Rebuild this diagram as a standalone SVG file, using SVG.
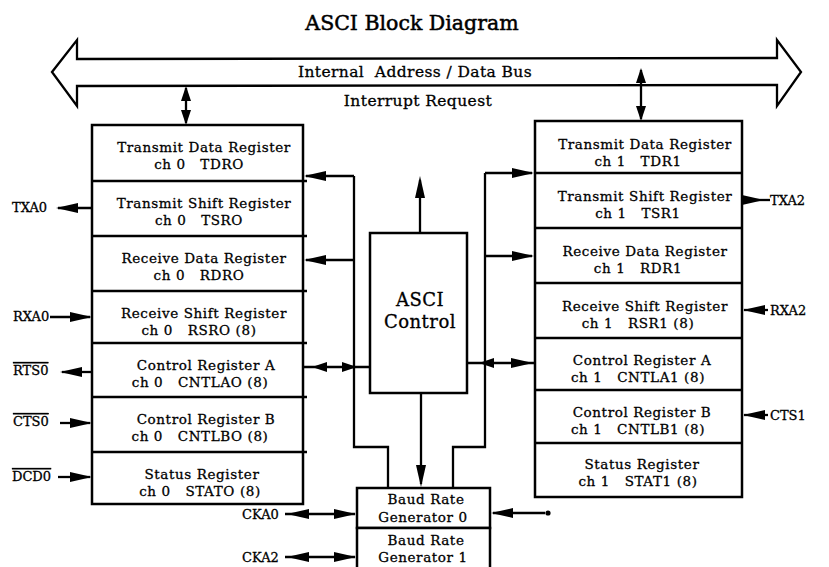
<svg xmlns="http://www.w3.org/2000/svg" xmlns:xlink="http://www.w3.org/1999/xlink" width="829" height="567" viewBox="0 0 829 567">
<style>
  .box { fill: #fff; stroke: #000; stroke-width: 2.5; }
  .div { stroke: #000; stroke-width: 2.3; fill: none; }
  .ln { stroke: #000; stroke-width: 2.3; fill: none; }
  text { white-space: pre; fill: #000; stroke: #000; stroke-width: 0.3; font-family: "DejaVu Serif", "Liberation Serif", serif; }
  .t { font-size: 13.5px; letter-spacing: 0.6px; text-anchor: middle; }
  .sig { font-size: 13px; }
  .ov { text-decoration: overline; }
  .title { font-size: 20.5px; text-anchor: middle; stroke-width: 0.5; }
  .bus { font-size: 15.5px; text-anchor: middle; letter-spacing: 0.4px; }
  .ctl { font-size: 18px; text-anchor: middle; letter-spacing: 0.5px; }
</style>
<defs>
  <path id="ah" d="M0,0 L-22,-5 L-22,5 Z" fill="#000"/>
  <path id="ahs" d="M0,0 L-15,-5 L-15,5 Z" fill="#000"/>
</defs>
<rect width="829" height="567" fill="#fff"/>

<text class="title" x="412" y="30">ASCI Block Diagram</text>

<g id="connectors">
  <!-- internal bus double arrow -->
  <path class="ln" d="M52,72 L77,40 L77,59 L777,58 L777,40 L801,72 L777,106 L777,85 L77,86 L77,106 Z"/>
  <!-- bus to channel 0 / channel 1 -->
  <line class="ln" x1="186" y1="88" x2="186" y2="123"/>
  <use xlink:href="#ahs" transform="translate(186,86) rotate(-90)"/>
  <use xlink:href="#ahs" transform="translate(186,125) rotate(90)"/>
  <line class="ln" x1="641" y1="70" x2="641" y2="119"/>
  <use xlink:href="#ahs" transform="translate(641,68) rotate(-90)"/>
  <use xlink:href="#ahs" transform="translate(641,121) rotate(90)"/>

  <!-- left internal path -->
  <path class="ln" d="M354,176 L354,447 L388,447 L388,488"/>
  <line class="ln" x1="354" y1="176" x2="306" y2="176"/>
  <use xlink:href="#ah" transform="translate(304,176) rotate(180)"/>
  <line class="ln" x1="354" y1="260" x2="306" y2="260"/>
  <use xlink:href="#ah" transform="translate(304,260) rotate(180)"/>

  <!-- right internal path -->
  <path class="ln" d="M485,173 L485,447 L453,447 L453,488"/>
  <line class="ln" x1="485" y1="173" x2="532" y2="173"/>
  <use xlink:href="#ah" transform="translate(534,173)"/>
  <line class="ln" x1="485" y1="256" x2="532" y2="256"/>
  <use xlink:href="#ah" transform="translate(534,256)"/>

  <!-- ASCI control up / down -->
  <line class="ln" x1="420" y1="233" x2="420" y2="180"/>
  <use xlink:href="#ah" transform="translate(420,176) rotate(-90)"/>
  <line class="ln" x1="421" y1="393" x2="421" y2="484"/>
  <use xlink:href="#ah" transform="translate(421,487) rotate(90)"/>

  <!-- control register A links -->
  <line class="ln" x1="303" y1="367" x2="370" y2="367"/>
  <use xlink:href="#ahs" transform="translate(312,367) rotate(180)"/>
  <use xlink:href="#ahs" transform="translate(357,367)"/>
  <line class="ln" x1="467" y1="363" x2="535" y2="363"/>
  <use xlink:href="#ahs" transform="translate(479,363) rotate(180)"/>
  <use xlink:href="#ah" transform="translate(533,363)"/>

  <!-- channel 0 external signals -->
  <line class="ln" x1="58" y1="208" x2="92" y2="208"/>
  <use xlink:href="#ah" transform="translate(56,208) rotate(180)"/>
  <line class="ln" x1="50" y1="317" x2="90" y2="317"/>
  <use xlink:href="#ah" transform="translate(92,317)"/>
  <line class="ln" x1="62" y1="372" x2="92" y2="372"/>
  <use xlink:href="#ah" transform="translate(60,372) rotate(180)"/>
  <line class="ln" x1="60" y1="423" x2="90" y2="423"/>
  <use xlink:href="#ah" transform="translate(92,423)"/>
  <line class="ln" x1="58" y1="477" x2="90" y2="477"/>
  <use xlink:href="#ah" transform="translate(92,477)"/>

  <!-- channel 1 external signals -->
  <line class="ln" x1="742" y1="200" x2="770" y2="200"/>
  <use xlink:href="#ah" transform="translate(764,200)"/>
  <line class="ln" x1="744" y1="310" x2="768" y2="310"/>
  <use xlink:href="#ah" transform="translate(743,310) rotate(180)"/>
  <line class="ln" x1="744" y1="415" x2="768" y2="415"/>
  <use xlink:href="#ah" transform="translate(743,415) rotate(180)"/>

  <!-- baud rate inputs -->
  <circle cx="548" cy="513" r="2.6" fill="#000"/>
  <line class="ln" x1="545" y1="513" x2="493" y2="513"/>
  <use xlink:href="#ah" transform="translate(491,513) rotate(180)"/>
  <line class="ln" x1="285" y1="514" x2="355" y2="514"/>
  <use xlink:href="#ah" transform="translate(287,514) rotate(180)"/>
  <use xlink:href="#ah" transform="translate(356,514)"/>
  <line class="ln" x1="285" y1="557" x2="355" y2="557"/>
  <use xlink:href="#ah" transform="translate(287,557) rotate(180)"/>
  <use xlink:href="#ah" transform="translate(356,557)"/>
</g>

<text class="bus" x="415" y="77">Internal  Address / Data Bus</text>
<text class="bus" x="418" y="106">Interrupt Request</text>

<g id="ch0-registers">
  <rect class="box" x="92" y="125" width="211" height="379"/>
  <path class="div" d="M92,181 H307 M92,236 H307 M92,291 H307 M92,343 H307 M92,397 H307 M92,452 H307"/>
  <g id="TDR0"><text class="t" x="204" y="152">Transmit Data Register</text><text class="t" x="199" y="169">ch 0   TDRO</text></g>
  <g id="TSR0"><text class="t" x="204" y="208">Transmit Shift Register</text><text class="t" x="199" y="225">ch 0   TSRO</text></g>
  <g id="RDR0"><text class="t" x="204" y="263">Receive Data Register</text><text class="t" x="199" y="280">ch 0   RDRO</text></g>
  <g id="RSR0"><text class="t" x="204" y="318">Receive Shift Register</text><text class="t" x="199" y="335">ch 0   RSRO (8)</text></g>
  <g id="CNTLA0"><text class="t" x="206" y="370">Control Register A</text><text class="t" x="200" y="387">ch 0   CNTLAO (8)</text></g>
  <g id="CNTLB0"><text class="t" x="206" y="424">Control Register B</text><text class="t" x="200" y="441">ch 0   CNTLBO (8)</text></g>
  <g id="STAT0"><text class="t" x="202" y="479">Status Register</text><text class="t" x="200" y="496">ch 0   STATO (8)</text></g>
</g>

<g id="ch1-registers">
  <rect class="box" x="535" y="121" width="207" height="376"/>
  <path class="div" d="M535,173 H742 M535,228 H742 M535,283 H742 M535,338 H742 M535,390 H742 M535,443 H742"/>
  <g id="TDR1"><text class="t" x="645" y="149">Transmit Data Register</text><text class="t" x="638" y="166">ch 1   TDR1</text></g>
  <g id="TSR1"><text class="t" x="645" y="201">Transmit Shift Register</text><text class="t" x="638" y="218">ch 1   TSR1</text></g>
  <g id="RDR1"><text class="t" x="645" y="256">Receive Data Register</text><text class="t" x="638" y="273">ch 1   RDR1</text></g>
  <g id="RSR1"><text class="t" x="645" y="311">Receive Shift Register</text><text class="t" x="638" y="328">ch 1   RSR1 (8)</text></g>
  <g id="CNTLA1"><text class="t" x="642" y="365">Control Register A</text><text class="t" x="638" y="382">ch 1   CNTLA1 (8)</text></g>
  <g id="CNTLB1"><text class="t" x="642" y="417">Control Register B</text><text class="t" x="638" y="434">ch 1   CNTLB1 (8)</text></g>
  <g id="STAT1"><text class="t" x="642" y="469">Status Register</text><text class="t" x="638" y="486">ch 1   STAT1 (8)</text></g>
</g>

<g id="asci-control">
  <rect class="box" x="370" y="233" width="97" height="160"/>
  <text class="ctl" x="420" y="306">ASCI</text>
  <text class="ctl" x="420" y="328">Control</text>
</g>

<g id="baud-rate">
  <rect class="box" x="357" y="488" width="133" height="40"/>
  <rect class="box" x="357" y="528" width="133" height="45"/>
  <text class="t" x="426" y="504">Baud Rate</text>
  <text class="t" x="423" y="522">Generator 0</text>
  <text class="t" x="426" y="545">Baud Rate</text>
  <text class="t" x="423" y="562">Generator 1</text>
</g>

<g id="signals">
  <text class="sig" x="12" y="212">TXA0</text>
  <text class="sig" x="13" y="321">RXA0</text>
  <text class="sig ov" x="13" y="375">RTS0</text>
  <text class="sig ov" x="13" y="426">CTS0</text>
  <text class="sig ov" x="12" y="481">DCD0</text>
  <text class="sig" x="242" y="519">CKA0</text>
  <text class="sig" x="242" y="562">CKA2</text>
  <text class="sig" x="770" y="205">TXA2</text>
  <text class="sig" x="770" y="315">RXA2</text>
  <text class="sig" x="770" y="420">CTS1</text>
</g>
</svg>
